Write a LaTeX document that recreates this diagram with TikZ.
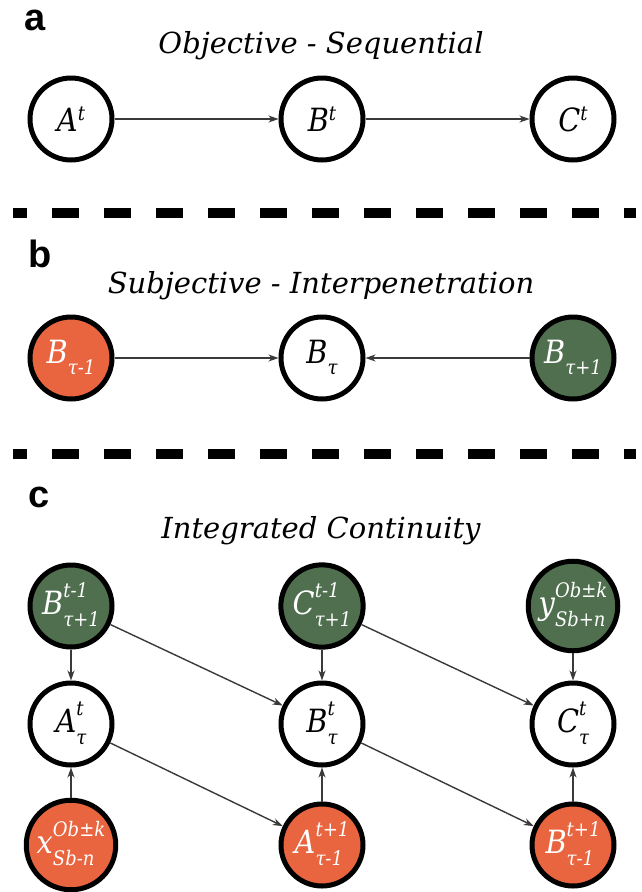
\documentclass[tikz,border=0pt]{standalone}
\usepackage{fontspec}
\setmainfont{DejaVu Serif}
\newfontfamily\nodefont{DejaVu Serif}[FakeStretch=0.9]
\newfontfamily\labfont{Liberation Sans}
\usetikzlibrary{arrows.meta}
\definecolor{nodeorange}{HTML}{E9653F}
\definecolor{nodegreen}{HTML}{4F6F4E}
\definecolor{arrowgray}{HTML}{3A3A3A}
\newcommand\scrfont{\fontsize{20}{29}\selectfont}
\newcommand\lsup[2]{#1\raisebox{11pt}{\scrfont #2}}
\newcommand\lsub[2]{#1\raisebox{-11pt}{\scrfont #2}}
\newcommand\lboth[3]{#1\raisebox{-12pt}{\scrfont\begin{tabular}[b]{@{}l@{}}#2\\#3\end{tabular}}}
\begin{document}
\begin{tikzpicture}[x=1pt,y=-1pt,
  vnode/.style={circle, draw=black, line width=5pt, minimum size=82pt, inner sep=0pt,
    font=\nodefont\fontsize{32}{38}\selectfont\itshape, fill=white},
  gnode/.style={vnode, fill=nodegreen, text=white},
  onode/.style={vnode, fill=nodeorange, text=white},
  link/.style={-{Stealth[length=10pt,width=7pt,inset=3pt]}, line width=1.4pt, draw=arrowgray},
  sepline/.style={line width=10pt, dash pattern=on 27pt off 25pt, dash phase=13pt},
  panel/.style={font=\labfont\bfseries\fontsize{38}{44}\selectfont, anchor=base west, inner sep=0pt},
  ttl/.style={font=\fontsize{29}{34}\selectfont\itshape, anchor=base, inner sep=0pt}]
\useasboundingbox (0,0) rectangle (641,892);

% separators
\coordinate (s1a) at (13,213); \coordinate (s1b) at (636,213);
\coordinate (s2a) at (13,454); \coordinate (s2b) at (636,454);
\draw[sepline] (s1a) -- (s1b);
\draw[sepline] (s2a) -- (s2b);

% panel a
\node[panel] (la) at (24,30) {a};
\node[ttl] (ta) at (321,53) {Objective - Sequential};
\node[vnode] (aA) at (71,119) {\lsup{A}{t}};
\node[vnode] (aB) at (322,119) {\lsup{B}{t}};
\node[vnode] (aC) at (573,119) {\lsup{C}{t}};
\draw[link] (aA) -- (aB);
\draw[link] (aB) -- (aC);

% panel b
\node[panel] (lb) at (28,267) {b};
\node[ttl] (tb) at (321,293) {Subjective - Interpenetration};
\node[onode] (bL) at (71,358) {\lsub{B}{τ-1}};
\node[vnode] (bM) at (322,358) {\lsub{B}{τ}};
\node[gnode] (bR) at (573,358) {\lsub{B}{τ+1}};
\draw[link] (bL) -- (bM);
\draw[link] (bR) -- (bM);

% panel c
\node[panel] (lc) at (28,507) {c};
\node[ttl] (tc) at (321,538) {Integrated Continuity};
\node[gnode] (t1) at (71,606) {\lboth{B}{t-1}{τ+1}};
\node[gnode] (t2) at (322,606) {\lboth{C}{t-1}{τ+1}};
\node[gnode] (t3) at (573,606) {\lboth{y}{Ob±k}{Sb+n}};
\node[vnode] (m1) at (71,724) {\lboth{A}{t}{τ}};
\node[vnode] (m2) at (322,724) {\lboth{B}{t}{τ}};
\node[vnode] (m3) at (573,724) {\lboth{C}{t}{τ}};
\node[onode] (b1) at (71,845) {\lboth{x}{Ob±k}{Sb-n}};
\node[onode] (b2) at (322,845) {\lboth{A}{t+1}{τ-1}};
\node[onode] (b3) at (573,845) {\lboth{B}{t+1}{τ-1}};

\draw[link] (t1) -- (m1);
\draw[link] (t1) -- (m2);
\draw[link] (t2) -- (m2);
\draw[link] (t2) -- (m3);
\draw[link] (t3) -- (m3);
\draw[link] (b1) -- (m1);
\draw[link] (m1) -- (b2);
\draw[link] (b2) -- (m2);
\draw[link] (m2) -- (b3);
\draw[link] (b3) -- (m3);
\end{tikzpicture}
\end{document}
